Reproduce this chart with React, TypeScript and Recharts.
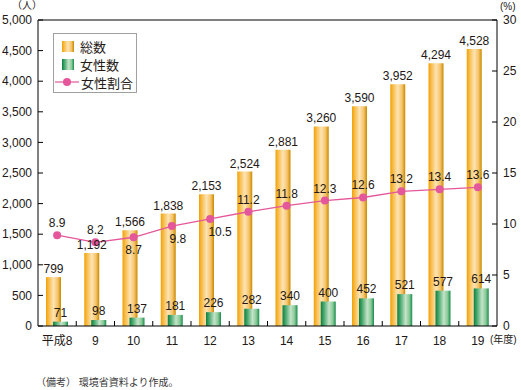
import { ComposedChart, Bar, Line, XAxis, YAxis, LabelList, ReferenceLine } from 'recharts'

const years = ['平成8', '9', '10', '11', '12', '13', '14', '15', '16', '17', '18', '19']
const totalCount = [799, 1192, 1566, 1838, 2153, 2524, 2881, 3260, 3590, 3952, 4294, 4528]
const femaleCount = [71, 98, 137, 181, 226, 282, 340, 400, 452, 521, 577, 614]
const femaleRatio = [8.9, 8.2, 8.7, 9.8, 10.5, 11.2, 11.8, 12.3, 12.6, 13.2, 13.4, 13.6]
const leftTicks = [0, 500, 1000, 1500, 2000, 2500, 3000, 3500, 4000, 4500, 5000]
const rightTicks = [0, 5, 10, 15, 20, 25, 30]

const data = years.map((year, i) => ({
  year,
  total: totalCount[i],
  female: femaleCount[i],
  ratio: femaleRatio[i],
}))

const FONT = '"Liberation Sans", Arial, "Noto Sans CJK JP", sans-serif'
const INK = '#231815'
const PINK = '#E4579A'
const BAND = 459 / 12

// labels that sit under the line instead of above it
const belowShift: Record<number, number> = { 2: 0, 3: 6, 4: 10 }

const fmt = (v: number) => v.toLocaleString('en-US')

function YearTick(props: any) {
  const { x, y, payload, index } = props
  return (
    <g>
      {index > 0 && <line x1={x - BAND / 2} x2={x - BAND / 2} y1={y} y2={y - 5} stroke="#000" />}
      <text x={x} y={y + 19} textAnchor="middle" fontSize={12} fill={INK} fontFamily={FONT}>
        {payload.value}
      </text>
    </g>
  )
}

function RatioLabel(props: any) {
  const { x, y, value, index } = props
  const below = index in belowShift
  return (
    <text
      x={x + (below ? belowShift[index] : 0)}
      y={below ? y + 17 : y - 8}
      textAnchor="middle"
      fontSize={12}
      fill={INK}
      fontFamily={FONT}
    >
      {value.toFixed(1)}
    </text>
  )
}

function LegendBox() {
  const row = { position: 'absolute' as const, left: 0, display: 'flex', alignItems: 'center', height: 14 }
  return (
    <div
      style={{
        position: 'absolute',
        left: 53,
        top: 33,
        width: 82,
        height: 58,
        border: '1px solid #A0A0A0',
        background: '#fff',
        fontFamily: FONT,
        fontSize: 13,
        color: INK,
      }}
    >
      <div style={{ ...row, top: 5, left: 8 }}>
        <svg width={12} height={11}>
          <rect width={12} height={11} fill="url(#gradOrange)" />
        </svg>
        <span style={{ marginLeft: 6 }}>総数</span>
      </div>
      <div style={{ ...row, top: 23, left: 8 }}>
        <svg width={12} height={11}>
          <rect width={12} height={11} fill="url(#gradGreen)" />
        </svg>
        <span style={{ marginLeft: 6 }}>女性数</span>
      </div>
      <div style={{ ...row, top: 41, left: 1 }}>
        <svg width={24} height={10}>
          <line x1={0} x2={24} y1={5} y2={5} stroke={PINK} strokeWidth={1.2} />
          <circle cx={12} cy={5} r={4} fill={PINK} />
        </svg>
        <span style={{ marginLeft: 2 }}>女性割合</span>
      </div>
    </div>
  )
}

const note = {
  position: 'absolute' as const,
  fontSize: 10,
  lineHeight: '12px',
  fontFamily: FONT,
  color: INK,
  whiteSpace: 'nowrap' as const,
}

export default function App() {
  return (
    <div style={{ position: 'absolute', left: 0, top: 0, width: 521, height: 390, background: '#fff' }}>
      <ComposedChart
        width={521}
        height={390}
        data={data}
        margin={{ top: 20, right: 0, left: 0, bottom: 34 }}
        barGap={-8}
      >
        <defs>
          <linearGradient id="gradOrange" x1="0" y1="0" x2="1" y2="0">
            <stop offset="0%" stopColor="#F2A000" />
            <stop offset="20%" stopColor="#F8BE50" />
            <stop offset="50%" stopColor="#FDE4B4" />
            <stop offset="78%" stopColor="#F6C46A" />
            <stop offset="100%" stopColor="#C98A00" />
          </linearGradient>
          <linearGradient id="gradGreen" x1="0" y1="0" x2="1" y2="0">
            <stop offset="0%" stopColor="#0A8040" />
            <stop offset="22%" stopColor="#4CAA70" />
            <stop offset="55%" stopColor="#C4E3C8" />
            <stop offset="80%" stopColor="#8ACA98" />
            <stop offset="100%" stopColor="#168C4C" />
          </linearGradient>
        </defs>
        <XAxis
          dataKey="year"
          interval={0}
          height={30}
          tickLine={false}
          tickSize={0}
          tickMargin={0}
          axisLine={{ stroke: '#000' }}
          tick={<YearTick />}
        />
        <YAxis
          yAxisId="left"
          domain={[0, 5000]}
          ticks={leftTicks}
          interval={0}
          width={38}
          tickSize={-5}
          tickMargin={11}
          tickFormatter={fmt}
          axisLine={{ stroke: '#000' }}
          tickLine={{ stroke: '#000' }}
          tick={{ fontSize: 12, fill: INK, fontFamily: FONT }}
        />
        <YAxis
          yAxisId="right"
          orientation="right"
          domain={[0, 30]}
          ticks={rightTicks}
          interval={0}
          width={24}
          tickSize={-5}
          tickMargin={11}
          axisLine={{ stroke: '#000' }}
          tickLine={{ stroke: '#000' }}
          tick={{ fontSize: 12, fill: INK, fontFamily: FONT, textAnchor: 'start' }}
        />
        <ReferenceLine yAxisId="left" y={5000} stroke="#000" />
        <Bar yAxisId="left" dataKey="total" barSize={15} fill="url(#gradOrange)" isAnimationActive={false}>
          <LabelList dataKey="total" position="top" offset={4} formatter={fmt} fontSize={12} fill={INK} fontFamily={FONT} />
        </Bar>
        <Bar yAxisId="left" dataKey="female" barSize={15} fill="url(#gradGreen)" isAnimationActive={false}>
          <LabelList dataKey="female" position="top" offset={5} fontSize={12} fill={INK} fontFamily={FONT} />
        </Bar>
        <Line
          yAxisId="right"
          dataKey="ratio"
          stroke={PINK}
          strokeWidth={1.3}
          dot={{ r: 4, fill: PINK, stroke: 'none' }}
          isAnimationActive={false}
        >
          <LabelList dataKey="ratio" content={<RatioLabel />} />
        </Line>
      </ComposedChart>
      <LegendBox />
      <div style={{ ...note, left: 12, top: 0 }}>（人）</div>
      <div style={{ ...note, left: 500, top: 1 }}>(%)</div>
      <div style={{ ...note, left: 490, top: 334 }}>(年度)</div>
      <div style={{ ...note, left: 36, top: 377, color: '#3a3a3a' }}>（備考） 環境省資料より作成。</div>
    </div>
  )
}
